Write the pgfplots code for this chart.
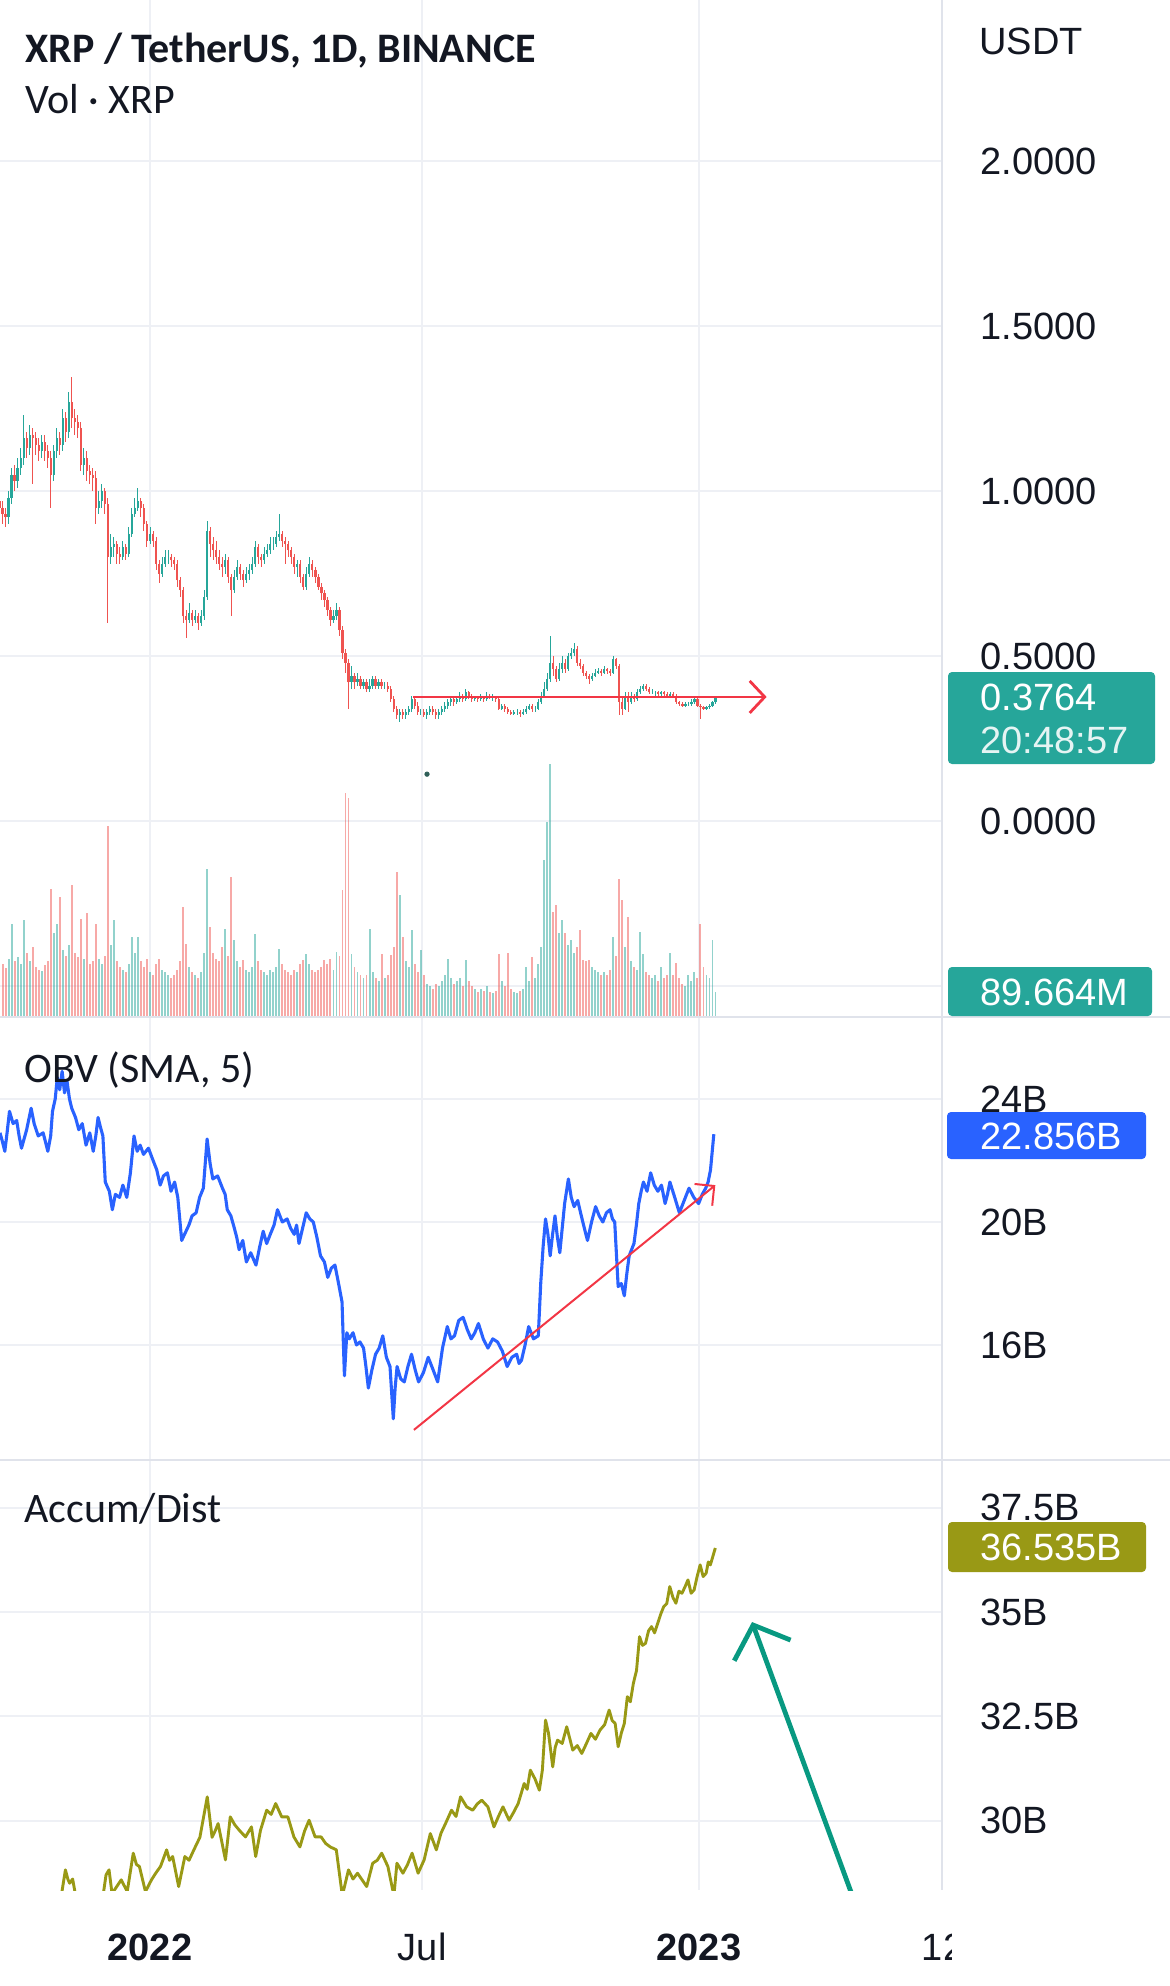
\documentclass[border=0pt]{standalone}
\usepackage{pgfplots}
\pgfplotsset{compat=1.18}
\usepackage{pgfplotstable}
\usetikzlibrary{arrows.meta}
\usepackage{fontspec}
\setmainfont{Carlito}
\newfontfamily\lib{Liberation Sans}
\definecolor{txt}{HTML}{131722}
\definecolor{gridc}{HTML}{EEF0F5}
\definecolor{sepc}{HTML}{E0E3EB}
\definecolor{upc}{HTML}{26A69A}
\definecolor{downc}{HTML}{EF5350}
\definecolor{redc}{HTML}{F23645}
\definecolor{obvc}{HTML}{2962FF}
\definecolor{adc}{HTML}{999915}
\definecolor{arrc}{HTML}{089981}
\definecolor{dotc}{HTML}{2E5E58}
\newcommand\numfont{\lib\fontsize{19}{22}\selectfont}
\newcommand\legfont{\fontsize{21}{25}\selectfont}

\pgfplotstableread{
d o h l c v
-100 0.97 0.99 0.92 0.95 313
-98 0.95 0.97 0.90 0.93 190
-96 0.93 0.95 0.89 0.92 175
-94 0.92 1.00 0.90 0.98 210
-92 0.98 1.07 0.96 1.05 335
-90 1.05 1.08 1.00 1.03 200
-88 1.03 1.10 1.01 1.07 215
-86 1.07 1.13 1.05 1.10 190
-84 1.10 1.23 1.08 1.16 349
-82 1.16 1.18 1.10 1.13 230
-80 1.13 1.20 1.11 1.17 200
-78 1.17 1.19 1.02 1.16 250
-76 1.16 1.18 1.11 1.14 180
-74 1.14 1.16 1.09 1.12 170
-72 1.12 1.17 1.10 1.15 165
-70 1.15 1.17 1.09 1.12 185
-68 1.12 1.14 1.07 1.10 200
-66 1.10 1.12 0.95 1.05 460
-64 1.05 1.14 1.03 1.12 300
-62 1.12 1.19 1.10 1.16 335
-60 1.16 1.18 1.11 1.14 432
-58 1.14 1.25 1.12 1.22 240
-56 1.22 1.24 1.15 1.18 220
-54 1.18 1.30 1.16 1.27 260
-52 1.27 1.345 1.19 1.22 475
-50 1.22 1.25 1.17 1.21 230
-48 1.21 1.23 1.16 1.19 215
-46 1.19 1.21 1.06 1.08 353
-44 1.08 1.13 1.05 1.10 210
-42 1.10 1.12 1.03 1.06 372
-40 1.06 1.08 1.02 1.05 190
-38 1.05 1.07 1.00 1.04 200
-36 1.04 1.06 0.90 0.95 335
-34 0.95 1.00 0.93 0.97 210
-32 0.97 1.02 0.95 1.00 190
-30 1.00 1.01 0.93 0.96 220
-28 0.96 0.98 0.60 0.80 684
-26 0.80 0.87 0.78 0.83 260
-24 0.83 0.86 0.80 0.84 349
-22 0.84 0.85 0.78 0.81 200
-20 0.81 0.83 0.78 0.80 180
-18 0.80 0.85 0.79 0.83 170
-16 0.83 0.84 0.79 0.81 160
-14 0.81 0.89 0.80 0.87 190
-12 0.87 0.95 0.86 0.93 288
-10 0.93 0.98 0.92 0.95 230
-8 0.95 1.01 0.94 0.97 288
-6 0.97 0.98 0.92 0.95 200
-4 0.95 0.96 0.88 0.90 180
-2 0.90 0.91 0.83 0.85 210
0 0.85 0.89 0.84 0.87 160
2 0.87 0.88 0.83 0.85 150
4 0.85 0.86 0.76 0.78 191
6 0.78 0.79 0.72 0.75 210
8 0.75 0.80 0.74 0.78 170
10 0.78 0.82 0.77 0.80 160
12 0.80 0.82 0.78 0.80 150
14 0.80 0.81 0.77 0.79 140
16 0.79 0.80 0.76 0.78 150
18 0.78 0.79 0.71 0.73 170
20 0.73 0.74 0.68 0.70 200
22 0.70 0.71 0.60 0.62 396
24 0.62 0.64 0.555 0.61 263
26 0.61 0.66 0.60 0.63 180
28 0.63 0.64 0.59 0.61 160
30 0.61 0.64 0.60 0.62 150
32 0.62 0.63 0.58 0.60 140
34 0.60 0.64 0.59 0.62 160
36 0.62 0.70 0.61 0.68 230
38 0.68 0.91 0.67 0.88 533
40 0.88 0.89 0.80 0.84 324
42 0.84 0.86 0.79 0.82 230
44 0.82 0.85 0.78 0.80 210
46 0.80 0.82 0.76 0.78 200
48 0.78 0.80 0.74 0.77 252
50 0.77 0.81 0.75 0.79 317
52 0.79 0.80 0.72 0.74 220
54 0.74 0.75 0.62 0.70 504
56 0.70 0.76 0.69 0.74 277
58 0.74 0.79 0.73 0.77 200
60 0.77 0.78 0.73 0.75 180
62 0.75 0.76 0.71 0.73 205
64 0.73 0.77 0.72 0.75 170
66 0.75 0.78 0.73 0.76 160
68 0.76 0.80 0.75 0.78 180
70 0.78 0.85 0.77 0.83 299
72 0.83 0.84 0.78 0.80 200
74 0.80 0.81 0.77 0.79 170
76 0.79 0.83 0.78 0.81 160
78 0.81 0.84 0.80 0.82 150
80 0.82 0.86 0.81 0.84 170
82 0.84 0.86 0.82 0.84 160
84 0.84 0.88 0.83 0.86 180
86 0.86 0.93 0.85 0.87 245
88 0.87 0.88 0.83 0.85 190
90 0.85 0.86 0.78 0.84 170
92 0.84 0.85 0.80 0.82 160
94 0.82 0.83 0.78 0.80 150
96 0.80 0.81 0.75 0.77 170
98 0.77 0.79 0.74 0.78 160
100 0.78 0.79 0.72 0.74 190
102 0.74 0.75 0.70 0.71 205
104 0.71 0.77 0.70 0.75 227
106 0.75 0.80 0.74 0.78 190
108 0.78 0.79 0.74 0.76 170
110 0.76 0.77 0.72 0.74 160
112 0.74 0.75 0.70 0.71 170
114 0.71 0.72 0.67 0.69 180
116 0.69 0.70 0.65 0.67 205
118 0.67 0.68 0.62 0.64 190
120 0.64 0.65 0.59 0.61 210
122 0.61 0.64 0.60 0.62 170
124 0.62 0.66 0.61 0.64 234
126 0.64 0.65 0.56 0.58 220
128 0.58 0.59 0.49 0.51 457
130 0.51 0.52 0.45 0.48 803
132 0.48 0.49 0.34 0.42 785
134 0.42 0.47 0.40 0.44 227
136 0.44 0.45 0.40 0.42 180
138 0.42 0.45 0.41 0.43 160
140 0.43 0.44 0.40 0.41 150
142 0.41 0.43 0.40 0.42 140
144 0.42 0.43 0.39 0.40 150
146 0.40 0.43 0.39 0.41 317
148 0.41 0.44 0.40 0.43 160
150 0.43 0.44 0.40 0.41 140
152 0.41 0.43 0.40 0.42 130
154 0.42 0.43 0.40 0.41 225
156 0.41 0.42 0.40 0.41 140
158 0.41 0.42 0.39 0.40 150
160 0.40 0.41 0.36 0.37 222
162 0.37 0.38 0.33 0.34 250
164 0.34 0.35 0.31 0.32 522
166 0.32 0.34 0.30 0.33 439
168 0.33 0.34 0.31 0.32 288
170 0.32 0.34 0.31 0.33 200
172 0.33 0.35 0.32 0.34 180
174 0.34 0.38 0.33 0.37 313
176 0.37 0.38 0.34 0.35 190
178 0.35 0.36 0.32 0.33 160
180 0.33 0.34 0.32 0.33 241
182 0.33 0.34 0.315 0.32 150
184 0.32 0.34 0.31 0.33 120
186 0.33 0.35 0.32 0.34 110
188 0.34 0.35 0.32 0.33 100
190 0.33 0.34 0.31 0.32 120
192 0.32 0.34 0.31 0.33 110
194 0.33 0.35 0.32 0.34 130
196 0.34 0.36 0.33 0.35 150
198 0.35 0.37 0.34 0.36 209
200 0.36 0.38 0.35 0.37 140
202 0.37 0.38 0.35 0.36 120
204 0.36 0.38 0.355 0.37 130
206 0.37 0.39 0.36 0.38 140
208 0.38 0.385 0.36 0.37 110
210 0.37 0.40 0.365 0.39 205
212 0.39 0.395 0.37 0.38 130
214 0.38 0.385 0.36 0.37 110
216 0.37 0.38 0.365 0.375 100
218 0.375 0.38 0.36 0.37 90
220 0.37 0.385 0.365 0.375 100
222 0.375 0.38 0.36 0.37 95
224 0.37 0.39 0.365 0.38 110
226 0.38 0.385 0.37 0.375 90
228 0.375 0.385 0.365 0.375 85
230 0.375 0.38 0.36 0.37 95
232 0.37 0.375 0.335 0.34 227
234 0.34 0.355 0.335 0.35 130
236 0.35 0.355 0.33 0.34 110
238 0.34 0.345 0.325 0.33 230
240 0.33 0.335 0.32 0.325 100
242 0.325 0.335 0.32 0.33 90
244 0.33 0.34 0.32 0.33 85
246 0.33 0.335 0.315 0.325 95
248 0.325 0.34 0.32 0.33 100
250 0.33 0.35 0.325 0.34 180
252 0.34 0.355 0.335 0.35 130
254 0.35 0.355 0.33 0.34 216
256 0.34 0.35 0.33 0.34 140
258 0.34 0.37 0.335 0.36 190
260 0.36 0.39 0.355 0.38 250
262 0.38 0.42 0.375 0.40 565
264 0.40 0.45 0.395 0.43 700
266 0.43 0.56 0.42 0.48 908
268 0.48 0.50 0.44 0.46 378
270 0.46 0.47 0.42 0.43 402
272 0.43 0.48 0.425 0.46 300
274 0.46 0.50 0.45 0.48 348
276 0.48 0.49 0.45 0.46 300
278 0.46 0.51 0.455 0.50 260
280 0.50 0.525 0.49 0.51 276
282 0.51 0.54 0.50 0.52 230
284 0.52 0.53 0.47 0.48 250
286 0.48 0.49 0.46 0.47 312
288 0.47 0.475 0.44 0.45 205
290 0.45 0.455 0.43 0.44 200
292 0.44 0.445 0.415 0.43 205
294 0.43 0.45 0.425 0.44 180
296 0.44 0.46 0.435 0.45 170
298 0.45 0.465 0.445 0.455 160
300 0.455 0.46 0.44 0.45 150
302 0.45 0.47 0.445 0.46 160
304 0.46 0.465 0.445 0.455 150
306 0.455 0.46 0.44 0.45 170
308 0.45 0.50 0.445 0.49 288
310 0.49 0.495 0.46 0.47 220
312 0.47 0.475 0.32 0.36 495
314 0.36 0.38 0.32 0.34 420
316 0.34 0.39 0.335 0.38 250
318 0.38 0.39 0.33 0.36 359
320 0.36 0.39 0.355 0.38 200
322 0.38 0.385 0.36 0.37 180
324 0.37 0.40 0.365 0.39 170
326 0.39 0.41 0.385 0.40 305
328 0.40 0.415 0.395 0.41 227
330 0.41 0.415 0.395 0.40 160
332 0.40 0.405 0.385 0.39 150
334 0.39 0.40 0.385 0.39 140
336 0.39 0.395 0.38 0.39 150
338 0.39 0.395 0.38 0.385 130
340 0.385 0.395 0.38 0.39 180
342 0.39 0.395 0.38 0.385 140
344 0.385 0.39 0.375 0.38 150
346 0.38 0.39 0.375 0.385 230
348 0.385 0.39 0.375 0.38 150
350 0.38 0.385 0.355 0.36 195
352 0.36 0.365 0.35 0.355 140
354 0.355 0.36 0.345 0.35 120
356 0.35 0.36 0.345 0.355 110
358 0.355 0.36 0.35 0.355 150
360 0.355 0.37 0.35 0.36 130
362 0.36 0.375 0.355 0.37 160
364 0.37 0.375 0.345 0.35 140
366 0.35 0.355 0.31 0.345 334
368 0.345 0.35 0.335 0.34 180
370 0.34 0.35 0.335 0.345 150
372 0.345 0.355 0.34 0.35 140
374 0.35 0.365 0.345 0.36 276
376 0.36 0.38 0.355 0.3764 89.664
}\pricetab

\pgfplotstableread{
d v
-99.7 22.9
-98.0 22.6
-96.5 22.3
-95.0 22.9
-93.4 23.6
-91.0 23.2
-88.6 23.3
-87.0 22.8
-85.4 22.4
-82.0 23.0
-79.0 23.7
-77.0 23.2
-74.3 22.8
-71.0 22.9
-67.9 22.3
-66.0 22.8
-64.8 23.6
-63.0 24.0
-61.6 24.7
-60.0 24.3
-58.4 24.9
-56.8 24.2
-55.2 24.6
-53.5 24.0
-52.0 23.7
-49.5 23.4
-47.3 23.0
-45.0 23.2
-42.5 22.5
-40.0 22.9
-37.7 22.3
-36.0 22.8
-34.5 23.4
-33.0 23.1
-31.3 22.8
-29.7 21.3
-27.0 21.0
-25.0 20.4
-23.0 20.9
-20.2 20.8
-18.0 21.2
-15.4 20.8
-13.0 21.6
-10.6 22.8
-8.5 22.3
-6.5 22.5
-4.3 22.2
-1.0 22.4
2.1 22.0
4.5 21.7
6.8 21.2
9.0 21.5
11.6 21.6
14.0 21.0
16.4 21.3
18.5 20.8
21.1 19.4
23.0 19.6
25.9 19.9
28.0 20.2
30.7 20.3
33.0 20.8
35.5 21.1
38.0 22.7
40.0 21.9
41.8 21.4
45.0 21.5
48.2 21.1
50.0 20.9
51.4 20.4
53.8 20.2
56.1 19.8
57.7 19.5
59.3 19.1
61.7 19.4
64.1 18.7
67.0 19.0
70.5 18.6
73.0 19.2
75.3 19.7
77.6 19.3
80.0 19.6
82.5 19.9
84.8 20.4
88.0 20.0
91.2 20.1
93.5 19.8
95.9 19.6
97.5 19.9
99.1 19.3
101.5 19.8
103.9 20.3
106.3 20.1
108.6 20.0
111.0 19.5
113.4 18.9
116.0 18.7
118.2 18.2
120.6 18.5
123.0 18.6
125.4 18.0
127.7 17.4
129.3 15.0
130.9 16.4
132.5 16.2
135.0 16.4
137.3 16.0
139.6 16.1
142.0 15.9
143.6 15.3
145.2 14.6
147.6 15.2
150.0 15.7
152.4 15.9
154.8 16.3
157.2 15.6
159.6 15.3
161.8 13.6
163.0 14.6
164.3 15.3
166.7 14.9
169.1 14.8
171.5 15.3
173.9 15.7
176.3 15.2
178.6 14.8
181.8 15.1
185.0 15.6
188.2 15.2
191.3 14.8
194.5 15.9
197.7 16.6
200.1 16.2
202.5 16.3
205.3 16.8
208.2 16.9
211.0 16.5
213.6 16.2
216.0 16.4
218.4 16.7
221.6 16.2
224.7 15.9
227.9 16.2
231.1 16.1
234.3 15.8
237.5 15.3
240.6 15.6
243.8 15.7
245.4 15.4
247.0 15.5
249.4 16.0
251.8 16.6
255.0 16.2
258.2 16.3
259.8 18.0
261.4 19.2
263.0 20.1
264.6 19.6
266.1 18.9
267.7 19.6
269.3 20.2
270.9 19.5
272.5 19.0
274.1 19.8
275.7 20.6
278.2 21.4
280.1 20.8
282.0 20.5
284.4 20.7
286.8 20.2
288.8 19.8
290.9 19.4
293.6 20.0
296.3 20.5
298.7 20.2
301.1 20.0
303.5 20.3
305.9 20.4
307.5 20.1
309.0 20.0
311.3 17.9
313.4 18.0
315.4 17.6
317.0 18.3
318.6 18.9
320.2 19.1
321.8 19.3
323.4 19.9
325.0 20.6
326.6 21.0
328.1 21.3
330.5 21.0
332.9 21.6
335.3 21.2
337.7 21.0
340.1 21.2
342.5 20.6
344.1 20.9
345.7 21.3
348.9 20.8
352.0 20.3
355.2 20.7
358.4 21.1
361.6 20.8
364.8 20.6
367.2 20.9
369.5 21.1
371.1 21.3
372.7 21.7
374.9 22.856
}\obvtab

\pgfplotstableread{
d v
-99.7 27.6
-79.6 27.9
-59.4 28.1
-56.2 28.82
-54.6 28.6
-53.4 28.5
-51.4 28.6
-49.4 28.2
-39.4 27.9
-31.2 28.2
-29.2 28.7
-27.2 28.82
-25.2 28.25
-19.1 28.58
-15.1 28.3
-11.1 29.22
-9.0 28.95
-7.0 28.9
-3.0 28.3
1.0 28.58
4.0 28.75
7.0 28.9
11.1 29.3
13.0 29.05
15.1 29.14
19.1 28.42
23.2 29.14
26.0 29.05
29.2 29.3
33.2 29.6
38.1 30.57
41.3 29.6
43.3 29.75
45.3 29.93
50.2 29.06
53.4 30.09
56.4 29.9
59.4 29.77
63.5 29.61
67.5 29.85
70.3 29.14
73.5 29.77
77.6 30.25
80.6 30.15
83.6 30.41
87.6 30.09
91.7 30.09
95.7 29.61
99.7 29.37
102.8 29.75
105.8 30.01
109.8 29.61
113.8 29.61
116.9 29.45
119.9 29.37
123.9 29.3
127.9 28.2
132.0 28.82
135.0 28.6
138.0 28.74
144.1 28.42
148.1 28.98
151.1 29.05
154.1 29.22
158.2 28.9
162.2 28.2
164.2 28.98
168.2 28.74
171.3 28.95
174.3 29.22
178.3 28.74
182.3 29.06
186.4 29.69
190.4 29.3
193.5 29.7
196.5 29.93
200.5 30.25
203.5 30.1
206.5 30.57
210.6 30.33
214.6 30.25
217.6 30.4
220.6 30.49
224.7 30.33
228.7 29.85
231.7 30.1
234.7 30.33
238.8 30.01
241.8 30.2
244.8 30.41
248.8 30.89
250.8 30.75
252.9 31.21
256.0 31.0
258.9 30.73
260.9 31.21
263.0 32.41
265.0 32.09
267.8 31.29
269.4 31.75
271.0 31.93
274.1 31.85
277.1 32.25
281.1 31.69
284.1 31.8
287.1 31.61
290.2 31.85
293.2 32.09
296.2 31.95
299.2 32.17
302.3 32.3
305.3 32.65
307.3 32.4
309.3 32.33
311.3 31.77
313.4 32.1
315.4 32.33
317.4 32.97
319.4 32.85
321.4 33.29
323.5 33.6
325.5 34.41
327.5 34.2
329.5 34.25
331.5 34.55
333.5 34.65
335.5 34.5
337.6 34.73
339.6 34.95
341.6 35.13
343.6 35.2
345.6 35.61
347.7 35.35
349.7 35.21
351.7 35.5
353.7 35.45
355.7 35.6
357.7 35.77
359.8 35.45
361.8 35.53
363.8 35.85
365.8 36.13
367.8 35.85
369.8 35.93
371.2 36.2
372.6 36.13
375.9 36.535
}\adtab

\pgfplotsset{tvaxis/.style={
  scale only axis, width=471pt, xmin=-99.7, xmax=526.6,
  axis line style={draw=none}, tick style={draw=none}, major tick length=0pt,
  grid=major, major grid style={draw=gridc, line width=0.9pt},
  xtick={0,181,365}, xticklabels={,,},
  yticklabel pos=right,
  yticklabel style={font=\numfont, text=txt, anchor=west, inner sep=0pt, xshift=19pt},
}}

\begin{document}
\begin{tikzpicture}
\path[use as bounding box] (0pt,0pt) rectangle (585pt,-993pt);

% ---------- price pane
\begin{axis}[tvaxis, at={(0pt,0pt)}, anchor=north west, height=508.5pt,
  ymin=-0.5939, ymax=2.4879, ytick={-0.5,0,0.5,1,1.5,2},
  yticklabels={,0.0000,0.5000,1.0000,1.5000,2.0000}]
% wicks
\addplot[draw=none, forget plot, error bars/.cd, y dir=both, y explicit, error mark=none,
  error bar style={draw=upc, line width=0.45pt}]
  table[x=d, y expr={\thisrow{c}>=\thisrow{o} ? \thisrow{c} : nan},
        y error plus expr={\thisrow{h}-\thisrow{c}}, y error minus expr={\thisrow{c}-\thisrow{l}}] {\pricetab};
\addplot[draw=none, forget plot, error bars/.cd, y dir=both, y explicit, error mark=none,
  error bar style={draw=downc, line width=0.45pt}]
  table[x=d, y expr={\thisrow{c}<\thisrow{o} ? \thisrow{c} : nan},
        y error plus expr={\thisrow{h}-\thisrow{c}}, y error minus expr={\thisrow{c}-\thisrow{l}}] {\pricetab};
% bodies
\addplot[draw=none, forget plot, error bars/.cd, y dir=both, y explicit, error mark=none,
  error bar style={draw=upc, line width=1.1pt}]
  table[x=d, y expr={\thisrow{c}>=\thisrow{o} ? \thisrow{c} : nan},
        y error plus expr={0}, y error minus expr={\thisrow{c}-\thisrow{o}}] {\pricetab};
\addplot[draw=none, forget plot, error bars/.cd, y dir=both, y explicit, error mark=none,
  error bar style={draw=downc, line width=1.1pt}]
  table[x=d, y expr={\thisrow{c}<\thisrow{o} ? \thisrow{c} : nan},
        y error plus expr={\thisrow{o}-\thisrow{c}}, y error minus expr={0}] {\pricetab};
% horizontal level
\addplot[redc, line width=1.4pt, -{Straight Barb[length=7.5pt,width=16pt]}]
  coordinates {(175.1,0.376) (410.0,0.376)};
\addplot[only marks, mark=*, mark size=1.1pt, color=dotc] coordinates {(184.2,0.142)};
\end{axis}

% ---------- volume overlay
\begin{axis}[scale only axis, width=471pt, height=508.5pt, at={(0pt,0pt)}, anchor=north west,
  xmin=-99.7, xmax=526.6, ymin=0, ymax=3651, axis lines=none]
\addplot[ycomb, draw=upc, draw opacity=0.5, line width=0.95pt]
  table[x=d, y expr={\thisrow{c}>=\thisrow{o} ? \thisrow{v} : nan}] {\pricetab};
\addplot[ycomb, draw=downc, draw opacity=0.5, line width=0.95pt]
  table[x=d, y expr={\thisrow{c}<\thisrow{o} ? \thisrow{v} : nan}] {\pricetab};
\end{axis}

% ---------- OBV pane
\begin{axis}[tvaxis, at={(0pt,-508.5pt)}, anchor=north west, height=221.5pt,
  ymin=12.26, ymax=26.667, ytick={16,20,24}, yticklabels={16B,20B,24B}]
\addplot[obvc, line width=1.55pt, line join=round] table[x=d, y=v] {\obvtab};
\addplot[redc, line width=1pt, -{Straight Barb[length=7pt,width=14pt]}]
  coordinates {(175.5,13.24) (375.9,21.2)};
\end{axis}

% ---------- Accum/Dist pane
\begin{axis}[tvaxis, at={(0pt,-730pt)}, anchor=north west, height=215pt,
  ymin=28.337, ymax=38.643, ytick={30,32.5,35,37.5}, yticklabels={30B,32.5B,35B,37.5B},
  xticklabels={\textbf{2022},Jul,\textbf{2023}},
  xticklabel style={font=\numfont, text=txt, anchor=center, inner sep=0pt, yshift=-28.5pt}]
\addplot[adc, line width=1.45pt, line join=round] table[x=d, y=v] {\adtab};
\addplot[arrc, line width=2.4pt, -{Straight Barb[length=13.5pt,width=30pt]}]
  coordinates {(466.8,28.22) (400.3,34.76)};
\end{axis}

% ---------- overlay: separators, legends, value boxes
\begin{scope}[x=0.5pt, y=-0.5pt]
\draw[sepc, line width=1pt] (942,0) -- (942,1890);
\draw[sepc, line width=1pt] (0,1017) -- (1170,1017);
\draw[sepc, line width=1pt] (0,1460) -- (1170,1460);

\node[anchor=base west, inner sep=0pt, text=txt, font=\legfont\bfseries] at (25,62) {XRP / TetherUS, 1D, BINANCE};
\node[anchor=base west, inner sep=0pt, text=txt, font=\legfont] at (25,113) {Vol · XRP};
\node[anchor=base west, inner sep=0pt, text=txt, font=\legfont] at (24,1082) {OBV (SMA, 5)};
\node[anchor=base west, inner sep=0pt, text=txt, font=\legfont] at (24,1522) {Accum/Dist};

\node[anchor=west, inner sep=0pt, text=txt, font=\numfont] at (979,41) {USDT};

\fill[upc, rounded corners=2pt] (948,672) rectangle (1155,764);
\node[anchor=west, inner sep=0pt, text=white, font=\numfont] at (980,697) {0.3764};
\node[anchor=west, inner sep=0pt, text=white!88!upc, font=\numfont] at (980,740) {20:48:57};

\fill[upc, rounded corners=2pt] (948,967) rectangle (1152,1016);
\node[anchor=west, inner sep=0pt, text=white, font=\numfont] at (980,992) {89.664M};

\fill[obvc, rounded corners=2pt] (947,1112) rectangle (1146,1159);
\node[anchor=west, inner sep=0pt, text=white, font=\numfont] at (980,1136) {22.856B};

\fill[adc, rounded corners=2pt] (948,1522) rectangle (1146,1572);
\node[anchor=west, inner sep=0pt, text=white, font=\numfont] at (980,1547) {36.535B};

\begin{scope}
\clip (900,1900) rectangle (951,1986);
\node[anchor=center, inner sep=0pt, text=txt, font=\numfont] at (943,1947) {12};
\end{scope}
\end{scope}
\end{tikzpicture}
\end{document}
